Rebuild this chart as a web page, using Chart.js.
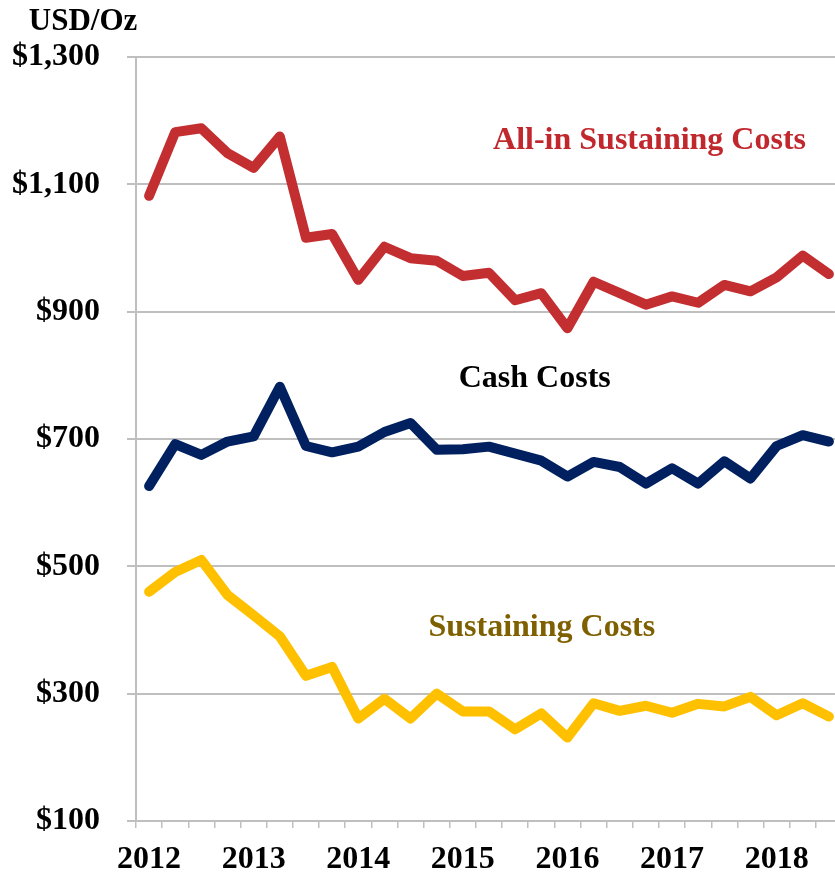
<!DOCTYPE html>
<html>
<head>
<meta charset="utf-8">
<script src="https://cdn.jsdelivr.net/npm/chart.js@4"></script>
<style>
  html, body { margin: 0; padding: 0; background: #fff; overflow: hidden; }
  #wrap { width: 842px; height: 872px; position: relative; }
</style>
</head>
<body>
<div id="wrap"><canvas id="myChart"></canvas></div>
<script>
// quarterly, Q1 2012 .. Q3 2018
const quarters = [];
for (let y = 2012; y <= 2018; y++) {
    for (let q = 1; q <= 4; q++) {
        if (y === 2018 && q === 4) break;
        quarters.push('Q' + q + ' ' + y);
    }
}

const allInCosts = [1082, 1182, 1188, 1149, 1126, 1175, 1016, 1022, 950, 1002, 984, 980, 956,
    961, 918, 929, 874, 947, 929, 911, 924, 914, 942, 932, 954, 988, 959];
const cashCosts = [626, 692, 675, 696, 704, 782, 689, 679, 688, 711, 725, 683, 684,
    688, 677, 666, 641, 664, 656, 630, 654, 630, 665, 638, 689, 706, 696];
const sustainingCosts = [460, 491, 510, 455, 423, 390, 328, 342, 261, 292, 261, 300, 272,
    272, 244, 269, 231, 285, 273, 281, 270, 284, 280, 295, 266, 285, 264];

const yTicks = [100, 300, 500, 700, 900, 1100, 1300];

// series name labels drawn inside the plot (x = category index, y = value)
const seriesLabels = [
    { text: 'All-in Sustaining Costs', color: '#C0282E', x: 19.14, y: 1168 },
    { text: 'Cash Costs', color: '#000000', x: 14.75, y: 794 },
    { text: 'Sustaining Costs', color: '#7F6000', x: 15.02, y: 403 }
];

const FONT = '"Liberation Serif", "Times New Roman", serif';
const gridColor = '#BFBFBF';

const labelPlugin = {
    id: 'labels',
    afterDatasetsDraw(chart) {
        const ctx = chart.ctx;
        const xs = chart.scales.x, ys = chart.scales.y;
        ctx.save();
        ctx.font = 'bold 32px ' + FONT;
        ctx.textAlign = 'center';
        ctx.textBaseline = 'middle';
        seriesLabels.forEach(l => {
            ctx.fillStyle = l.color;
            ctx.fillText(l.text, xs.getPixelForValue(l.x), ys.getPixelForValue(l.y));
        });
        // unit label above the axis
        ctx.fillStyle = '#000';
        ctx.font = 'bold 31px ' + FONT;
        ctx.textBaseline = 'alphabetic';
        ctx.fillText('USD/Oz', 83, 30);
        ctx.restore();
    }
};

function series(data, color) {
    return {
        data: data,
        borderColor: color,
        backgroundColor: color,
        borderWidth: 10,
        pointRadius: 0,
        tension: 0,
        borderJoinStyle: 'round',
        borderCapStyle: 'round',
        fill: false
    };
}

new Chart(document.getElementById('myChart'), {
    type: 'line',
    data: {
        labels: quarters,
        datasets: [
            series(allInCosts, '#C32E31'),
            series(cashCosts, '#002060'),
            series(sustainingCosts, '#FFC000')
        ]
    },
    options: {
        responsive: true,
        maintainAspectRatio: false,
        animation: false,
        layout: { padding: { top: 57, left: 0, right: 0, bottom: 0 } },
        plugins: { legend: { display: false }, tooltip: { enabled: false } },
        scales: {
            x: {
                offset: true,
                grid: { offset: true, drawOnChartArea: false, drawTicks: true, tickLength: 7, color: gridColor, lineWidth: 1.5 },
                border: { display: true, color: gridColor, width: 2 },
                afterFit(scale) { scale.height = 51; },
                ticks: {
                    autoSkip: false,
                    maxRotation: 0,
                    padding: 13,
                    color: '#000',
                    font: { family: FONT, size: 32, weight: 'bold' },
                    callback(value) {
                        const q = quarters[value];
                        return q.startsWith('Q1') ? q.slice(3) : '';
                    }
                }
            },
            y: {
                min: 100,
                max: 1300,
                afterFit(scale) { scale.width = 136; },
                afterBuildTicks(scale) { scale.ticks = yTicks.map(v => ({ value: v })); },
                grid: { color: gridColor, lineWidth: 2, tickLength: 9 },
                border: { display: true, color: gridColor, width: 2 },
                ticks: {
                    padding: 27,
                    color: '#000',
                    font: { family: FONT, size: 32, weight: 'bold' },
                    callback: v => '$' + v.toLocaleString('en-US')
                }
            }
        }
    },
    plugins: [labelPlugin]
});
</script>
</body>
</html>
